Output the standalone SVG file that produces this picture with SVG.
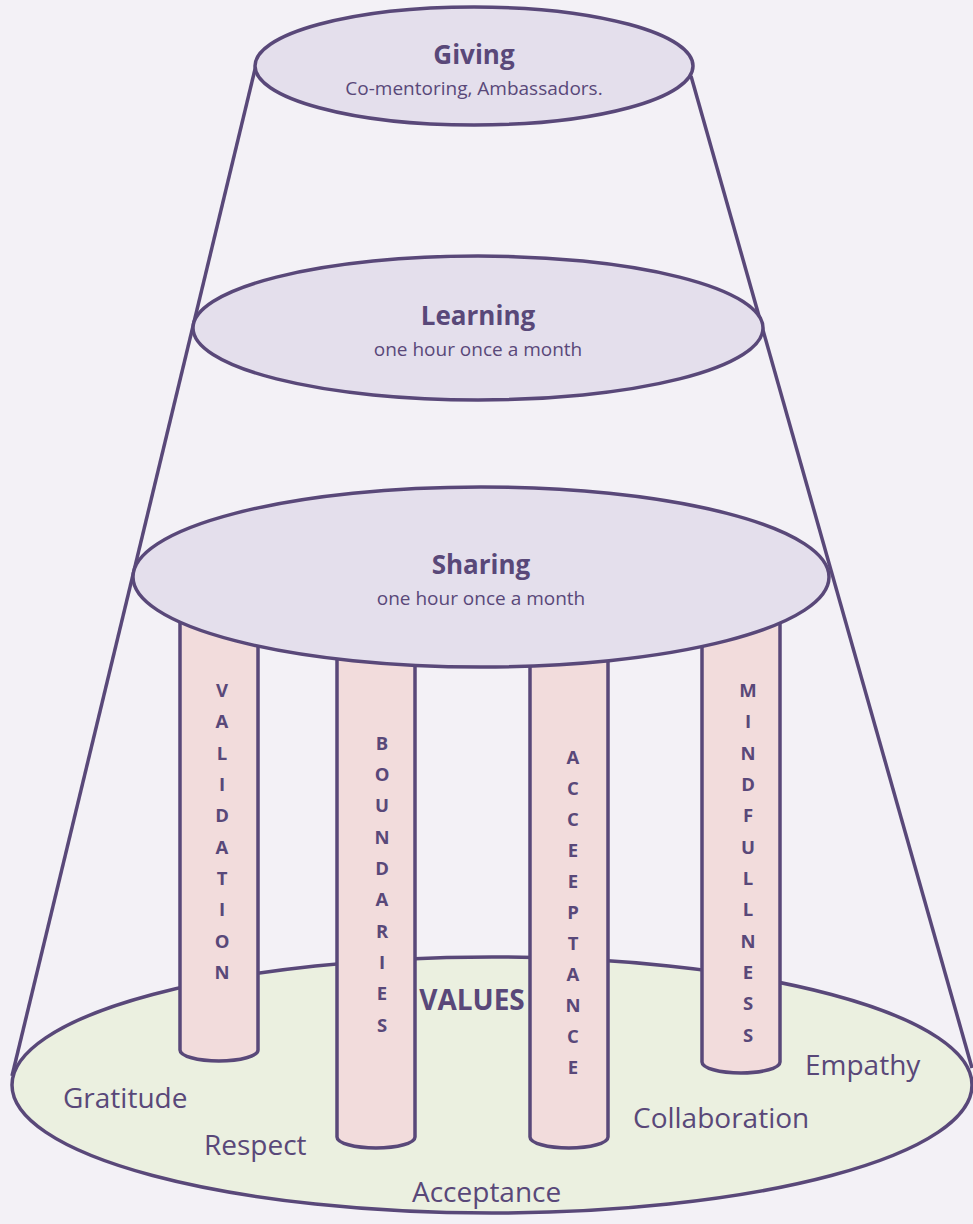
<svg xmlns="http://www.w3.org/2000/svg" width="973" height="1224" viewBox="0 0 973 1224">
  <style>
    .edge { stroke: #594879; stroke-width: 3.5; }
    .disc { fill: #e4dfec; }
    .pillar { fill: #f2dcdc; stroke: #594879; stroke-width: 3.5; }
    .base { fill: #ebf0e0; }
    .title { font-family: "Open Sans", "Liberation Sans", sans-serif; font-weight: bold; font-size: 26px; fill: #594879; text-anchor: middle; }
    .sub { font-family: "Open Sans", "Liberation Sans", sans-serif; font-size: 19px; fill: #594879; text-anchor: middle; }
    .letters { font-family: "Open Sans", "Liberation Sans", sans-serif; font-weight: bold; font-size: 18.5px; fill: #594879; text-anchor: middle; }
    .value { font-family: "Open Sans", "Liberation Sans", sans-serif; font-size: 28px; fill: #594879; }
  </style>

  <rect width="973" height="1224" fill="#f3f1f6"/>

  <!-- ground ellipse holding the values -->
  <g id="values">
    <ellipse class="base edge" cx="492" cy="1085" rx="480" ry="128"/>
  </g>

  <!-- cone outline from top disc down to the base -->
  <g id="connectors" fill="none">
    <line class="edge" x1="257" y1="61" x2="12" y2="1076"/>
    <line class="edge" x1="691" y1="76" x2="972" y2="1068"/>
  </g>

  <!-- pillars standing on the base, tops hidden under the Sharing disc -->
  <g id="pillar-validation">
    <path class="pillar" d="M180,590 L180,1050 A39,11 0 0 0 258,1050 L258,590"/>
    <text class="letters">
      <tspan x="222" y="697">V</tspan><tspan x="222" y="728">A</tspan><tspan x="222" y="760">L</tspan><tspan x="222" y="791">I</tspan><tspan x="222" y="822">D</tspan><tspan x="222" y="854">A</tspan><tspan x="222" y="885">T</tspan><tspan x="222" y="916">I</tspan><tspan x="222" y="948">O</tspan><tspan x="222" y="979">N</tspan>
    </text>
  </g>
  <g id="pillar-boundaries">
    <path class="pillar" d="M337,590 L337,1137 A39,11 0 0 0 415,1137 L415,590"/>
    <text class="letters">
      <tspan x="382" y="750">B</tspan><tspan x="382" y="781">O</tspan><tspan x="382" y="812">U</tspan><tspan x="382" y="844">N</tspan><tspan x="382" y="875">D</tspan><tspan x="382" y="906">A</tspan><tspan x="382" y="938">R</tspan><tspan x="382" y="969">I</tspan><tspan x="382" y="1000">E</tspan><tspan x="382" y="1032">S</tspan>
    </text>
  </g>
  <g id="pillar-acceptance">
    <path class="pillar" d="M530,590 L530,1137 A39,11 0 0 0 608,1137 L608,590"/>
    <text class="letters">
      <tspan x="573" y="764">A</tspan><tspan x="573" y="795">C</tspan><tspan x="573" y="826">C</tspan><tspan x="573" y="857">E</tspan><tspan x="573" y="888">E</tspan><tspan x="573" y="919">P</tspan><tspan x="573" y="950">T</tspan><tspan x="573" y="981">A</tspan><tspan x="573" y="1012">N</tspan><tspan x="573" y="1043">C</tspan><tspan x="573" y="1074">E</tspan>
    </text>
  </g>
  <g id="pillar-mindfulness">
    <path class="pillar" d="M702,590 L702,1062 A39,11 0 0 0 780,1062 L780,590"/>
    <text class="letters">
      <tspan x="748" y="697">M</tspan><tspan x="748" y="728">I</tspan><tspan x="748" y="760">N</tspan><tspan x="748" y="791">D</tspan><tspan x="748" y="822">F</tspan><tspan x="748" y="854">U</tspan><tspan x="748" y="885">L</tspan><tspan x="748" y="916">L</tspan><tspan x="748" y="948">N</tspan><tspan x="748" y="979">E</tspan><tspan x="748" y="1010">S</tspan><tspan x="748" y="1042">S</tspan>
    </text>
  </g>

  <!-- value words on the base -->
  <g id="value-words">
    <text class="value" x="472" y="1010" font-weight="bold" text-anchor="middle">VALUES</text>
    <text class="value" x="63" y="1108">Gratitude</text>
    <text class="value" x="204" y="1155">Respect</text>
    <text class="value" x="412" y="1202">Acceptance</text>
    <text class="value" x="633" y="1128">Collaboration</text>
    <text class="value" x="805" y="1075">Empathy</text>
  </g>

  <!-- discs, bottom to top -->
  <g id="sharing">
    <ellipse class="disc edge" cx="481" cy="577" rx="348" ry="90"/>
    <text class="title" x="481" y="574">Sharing</text>
    <text class="sub" x="481" y="605">one hour once a month</text>
  </g>
  <g id="learning">
    <ellipse class="disc edge" cx="478" cy="328" rx="285" ry="72"/>
    <text class="title" x="478" y="325">Learning</text>
    <text class="sub" x="478" y="356">one hour once a month</text>
  </g>
  <g id="giving">
    <ellipse class="disc edge" cx="474" cy="66" rx="219" ry="59"/>
    <text class="title" x="474" y="64">Giving</text>
    <text class="sub" x="474" y="95">Co-mentoring, Ambassadors.</text>
  </g>
</svg>
